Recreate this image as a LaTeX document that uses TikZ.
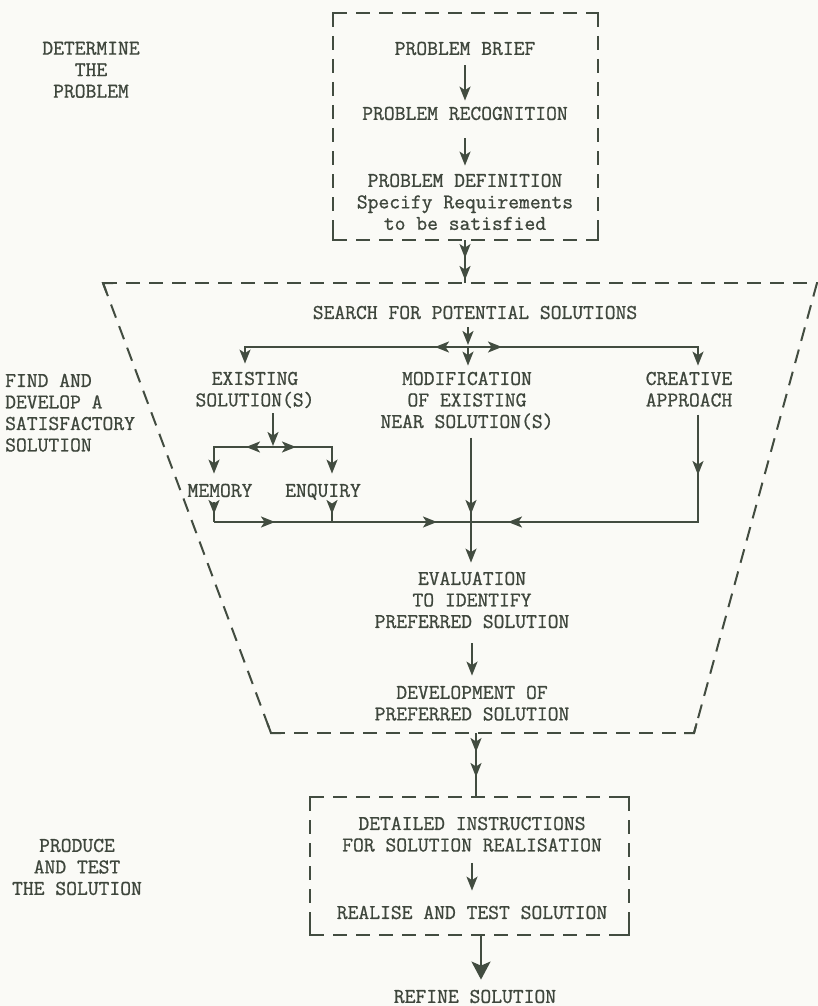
\documentclass[tikz,border=0pt]{standalone}
\usepackage{fontspec}
\newfontfamily\twfont{Latin Modern Mono}[FakeBold=0.9]
\usetikzlibrary{arrows.meta,calc}
\definecolor{ink}{RGB}{66,76,64}
\definecolor{txtc}{RGB}{62,70,60}
\definecolor{paper}{RGB}{250,250,246}
\begin{document}
\begin{tikzpicture}[x=1pt,y=-1pt,
  txt/.style={font=\fontsize{21}{21.5}\selectfont\twfont, text=txtc, inner sep=0pt, anchor=north, align=center},
  ln/.style={draw=ink, line width=1.8pt},
  arr/.style={ln, -{Stealth[length=14pt,width=11pt,inset=3.5pt]}},
  bigarr/.style={ln, line width=2.2pt, -{Stealth[length=18pt,width=19pt,inset=4pt]}},
  dsh/.style={draw=ink, line width=2pt, dash pattern=on 14pt off 9pt},
  crn/.style={draw=ink, line width=2pt},
]
\fill[paper] (0,0) rectangle (818,1006);
\useasboundingbox (0,0) rectangle (818,1006);

% ---------- dashed frames ----------
% top box
\draw[dsh] (333,13) -- (598,13);
\draw[dsh] (598,13) -- (598,240);
\draw[dsh] (333,13) -- (333,240);
\draw[dsh] (333,240) -- (598,240);
\draw[crn] (333,23) -- (333,13) -- (343,13);
\draw[crn] (588,13) -- (598,13) -- (598,23);
\draw[crn] (333,230) -- (333,240) -- (343,240);
\draw[crn] (588,240) -- (598,240) -- (598,230);
% trapezoid
\draw[dsh] (103,283) -- (818,283);
\draw[dsh] (103,283) -- (271,733);
\draw[dsh] (271,733) -- (694,733);
\draw[dsh] (817,283) -- (694,733);
\draw[crn] (113,283) -- (103,283) -- (106.5,292.4);
\draw[crn] (267.5,723.6) -- (271,733) -- (281,733);
\draw[crn] (684,733) -- (694,733) -- (696.6,723.4);
% bottom box
\draw[dsh] (310,797) -- (629,797);
\draw[dsh] (629,797) -- (629,935);
\draw[dsh] (310,797) -- (310,935);
\draw[dsh] (310,935) -- (629,935);
\draw[crn] (310,807) -- (310,797) -- (320,797);
\draw[crn] (619,797) -- (629,797) -- (629,807);
\draw[crn] (310,925) -- (310,935) -- (320,935);
\draw[crn] (619,935) -- (629,935) -- (629,925);

% ---------- texts ----------
\node[txt] (det) at (91,41.6) {DETERMINE\\THE\\PROBLEM};
\node[txt] (brief) at (465,41.6) {PROBLEM BRIEF};
\node[txt] (recog) at (465,106.6) {PROBLEM RECOGNITION};
\node[txt] (defn) at (465,173.6) {PROBLEM DEFINITION\\Specify Requirements\\to be satisfied};
\node[txt] (search) at (475,305.6) {SEARCH FOR POTENTIAL SOLUTIONS};
\node[txt] (exist) at (255,371.6) {EXISTING\\SOLUTION(S)};
\node[txt] (modif) at (467,371.6) {MODIFICATION\\OF EXISTING\\NEAR SOLUTION(S)};
\node[txt] (creat) at (689,371.6) {CREATIVE\\APPROACH};
\node[txt,anchor=north west,align=left] (find) at (5,373.6) {FIND AND\\DEVELOP A\\SATISFACTORY\\SOLUTION};
\node[txt] (memory) at (220,483.6) {MEMORY};
\node[txt] (enquiry) at (323,483.6) {ENQUIRY};
\node[txt] (eval) at (472,571.6) {EVALUATION\\TO IDENTIFY\\PREFERRED SOLUTION};
\node[txt] (devel) at (472,685.6) {DEVELOPMENT OF\\PREFERRED SOLUTION};
\node[txt] (detail) at (472,816.6) {DETAILED INSTRUCTIONS\\FOR SOLUTION REALISATION};
\node[txt] (realise) at (472,905.6) {REALISE AND TEST SOLUTION};
\node[txt] (refine) at (475,989.6) {REFINE SOLUTION};
\node[txt] (produce) at (77,838.6) {PRODUCE\\AND TEST\\THE SOLUTION};

% ---------- junction coordinates ----------
\coordinate (tbB) at (465,240);
\coordinate (trT) at (465,283);
\coordinate (J1) at (468,347);
\coordinate (JL) at (245,347);
\coordinate (JR) at (698,347);
\coordinate (J2) at (273,447);
\coordinate (ML) at (214,447);
\coordinate (MR) at (332,447);
\coordinate (J3) at (214,522);
\coordinate (EB) at (332,522);
\coordinate (J4) at (471,522);
\coordinate (J5) at (698,522);
\coordinate (trB) at (476,733);
\coordinate (bbT) at (476,797);
\coordinate (bbB) at (481,935);

% ---------- connectors ----------
\draw[arr,shorten <=10pt,shorten >=6pt] (brief.south) -- (recog.north);
\draw[arr,shorten <=18pt,shorten >=8pt] (recog.south) -- (defn.north);
\draw[ln] (tbB) -- (trT);
\draw[arr] (tbB) -- ($(tbB)!0.42!(trT)$);
\draw[arr,shorten >=3pt] (tbB) -- (trT);

\draw[arr,shorten <=8pt,shorten >=2pt] (search.south -| J1) -- (J1);
\draw[arr,shorten >=6pt] (J1) -- (modif.north -| J1);
\draw[arr,shorten >=8pt] (J1) -- (JL) -- (exist.north -| JL);
\draw[arr,shorten >=6pt] (J1) -- (JR) -- (creat.north -| JR);
\draw[arr] (J1) -- ++(-33,0);
\draw[arr] (J1) -- ++(34,0);

\draw[arr,shorten <=5pt,shorten >=1pt] (exist.south -| J2) -- (J2);
\draw[arr,shorten >=10pt] (J2) -- (ML) -- (memory.north -| ML);
\draw[arr,shorten >=10pt] (J2) -- (MR) -- (enquiry.north -| MR);
\draw[arr] (J2) -- ++(-27,0);
\draw[arr] (J2) -- ++(23,0);

\draw[ln,shorten <=5pt] (memory.south -| J3) -- (J3);
\draw[arr,shorten <=5pt] (memory.south -| J3) -- ($(J3)+(0,-8)$);
\draw[ln,shorten <=5pt] (enquiry.south -| EB) -- (EB);
\draw[arr,shorten <=5pt] (enquiry.south -| EB) -- ($(EB)+(0,-8)$);

\draw[ln,shorten <=8pt] (creat.south -| J5) -- (J5) -- (J3);
\draw[arr,shorten <=8pt] (creat.south -| J5) -- ($(J5)+(0,-47)$);
\draw[arr] (J5) -- ($(J4)+(37,0)$);
\draw[arr] (J3) -- ++(61,0);
\draw[arr] (J3) -- ($(J4)+(-34,0)$);
\draw[ln,shorten <=8pt] (modif.south -| J4) -- (J4);
\draw[arr,shorten <=8pt] (modif.south -| J4) -- ($(J4)+(0,-8)$);
\draw[arr,shorten >=9pt] (J4) -- (eval.north -| J4);
\draw[arr,shorten <=15pt,shorten >=10pt] (eval.south) -- (devel.north);

\draw[ln] (trB) -- (bbT);
\draw[arr] (trB) -- ++(0,19);
\draw[arr] (trB) -- ++(0,44);
\draw[arr,shorten <=11pt,shorten >=15pt] (detail.south) -- (realise.north);
\draw[bigarr,shorten >=10pt] (bbB) -- (refine.north -| bbB);
\end{tikzpicture}
\end{document}
